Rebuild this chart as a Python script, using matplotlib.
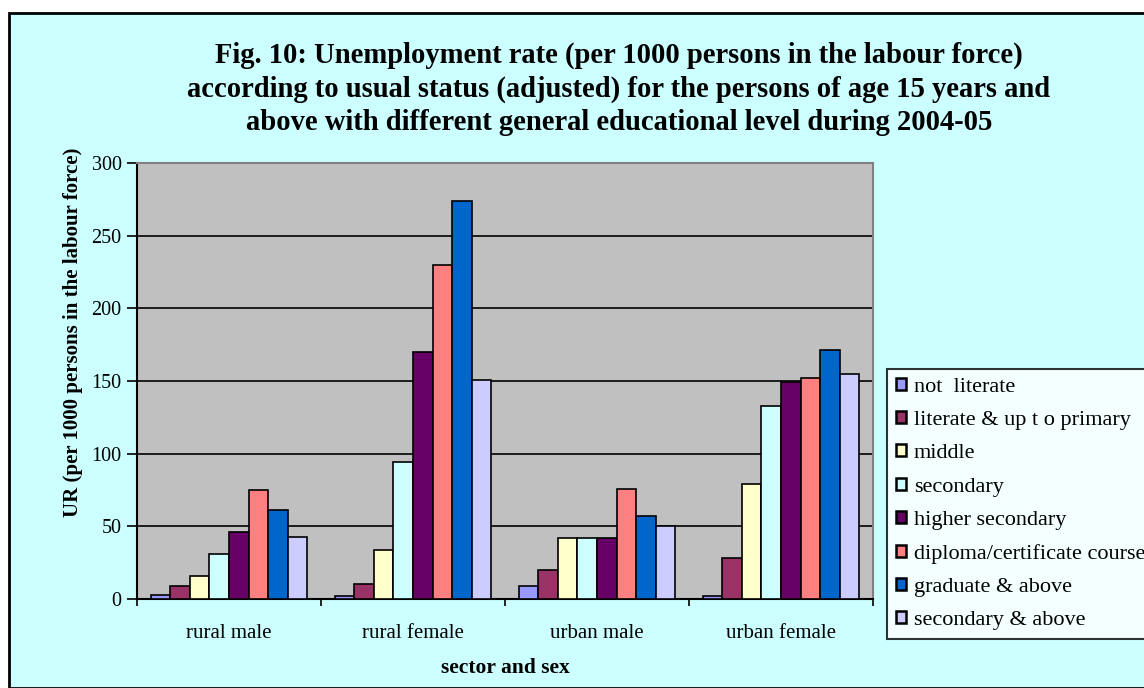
import matplotlib
matplotlib.use("Agg")
import matplotlib.pyplot as plt
import numpy as np
from matplotlib.patches import Rectangle

categories = ["rural male", "rural female", "urban male", "urban female"]
series_names = ["not  literate", "literate & up t o primary", "middle", "secondary",
                "higher secondary", "diploma/certificate course", "graduate & above",
                "secondary & above"]
not_literate = [3, 2, 9, 2]
literate_primary = [9, 10, 20, 28]
middle = [16, 34, 42, 79]
secondary = [31, 94, 42, 133]
higher_secondary = [46, 170, 42, 149]
diploma = [75, 230, 76, 152]
graduate = [61, 274, 57, 171]
secondary_above = [43, 151, 50, 155]
series_values = [not_literate, literate_primary, middle, secondary,
                 higher_secondary, diploma, graduate, secondary_above]
colors = ["#9999FF", "#993366", "#FFFFCC", "#CCFFFF", "#660066", "#FF8080", "#0066CC", "#CCCCFF"]
yticks = [0, 50, 100, 150, 200, 250, 300]
title_lines = ["Fig. 10: Unemployment rate (per 1000 persons in the labour force)",
               "according to usual status (adjusted) for the persons of age 15 years and",
               "above with different general educational level during 2004-05"]

plt.rcParams['font.family'] = ['Liberation Serif', 'DejaVu Serif']

W, H = 1144, 688
fig = plt.figure(figsize=(W/100, H/100), dpi=100)
fig.patch.set_facecolor("white")
fig.patches.append(Rectangle((9/W, 0), 1.0, 1 - 13/H, transform=fig.transFigure,
                             facecolor="#CCFFFF", edgecolor="black", linewidth=2, zorder=-10))

ax = fig.add_axes([137/W, 1 - 599/H, (873-137)/W, (599-163)/H])
ax.set_facecolor("#C0C0C0")
n = len(series_values)
bw = 0.106
x = np.arange(len(categories))
for i, (vals, c, name) in enumerate(zip(series_values, colors, series_names)):
    ax.bar(x + (i - (n-1)/2) * bw, vals, width=bw, color=c, edgecolor="black",
           linewidth=1.2, label=name, zorder=3)
ax.set_xlim(-0.5, len(categories) - 0.5)
ax.set_ylim(0, 300)
ax.set_yticks(yticks)
ax.set_yticklabels([str(v) for v in yticks], fontsize=14.5)
ax.yaxis.grid(True, color="black", linewidth=1.2, zorder=1)
ax.set_axisbelow(True)
ax.set_xticks(x)
ax.set_xticklabels(categories, fontsize=15)
ax.tick_params(axis='x', length=0, pad=18)
ax.set_xticks(np.arange(-0.5, len(categories)), minor=True)
ax.tick_params(axis='x', which='minor', length=5, width=1.2, direction='out')
ax.tick_params(axis='y', length=7, width=1.2, direction='out', pad=4)
for s in ["left", "bottom"]:
    ax.spines[s].set_color("black")
    ax.spines[s].set_linewidth(1.5)
for s in ["top", "right"]:
    ax.spines[s].set_color("#808080")
    ax.spines[s].set_linewidth(1.5)

fig.text(73/W, 1 - 517/H, "UR (per 1000 persons in the labour force)", rotation=90,
         ha="center", va="bottom", fontsize=15, fontweight="bold")
fig.text(505/W, 1 - 668/H, "sector and sex", ha="center", va="center",
         fontsize=15.5, fontweight="bold")

for yb, line in zip([63, 97, 130], title_lines):
    fig.text(619/W, 1 - yb/H, line, ha="center", va="baseline",
             fontsize=20.6, fontweight="bold")

leg = fig.legend(loc="upper left", bbox_to_anchor=(887/W, 1 - 369/H), fontsize=16,
                 frameon=True, fancybox=False, edgecolor="black", facecolor="white",
                 handlelength=0.45, handleheight=0.45, handletextpad=0.35,
                 labelspacing=0.64, borderaxespad=0, borderpad=0.4)
leg.get_frame().set_linewidth(1.5)
for h in leg.legend_handles:
    h.set_linewidth(1.8)

fig.savefig("out.png", dpi=100)
